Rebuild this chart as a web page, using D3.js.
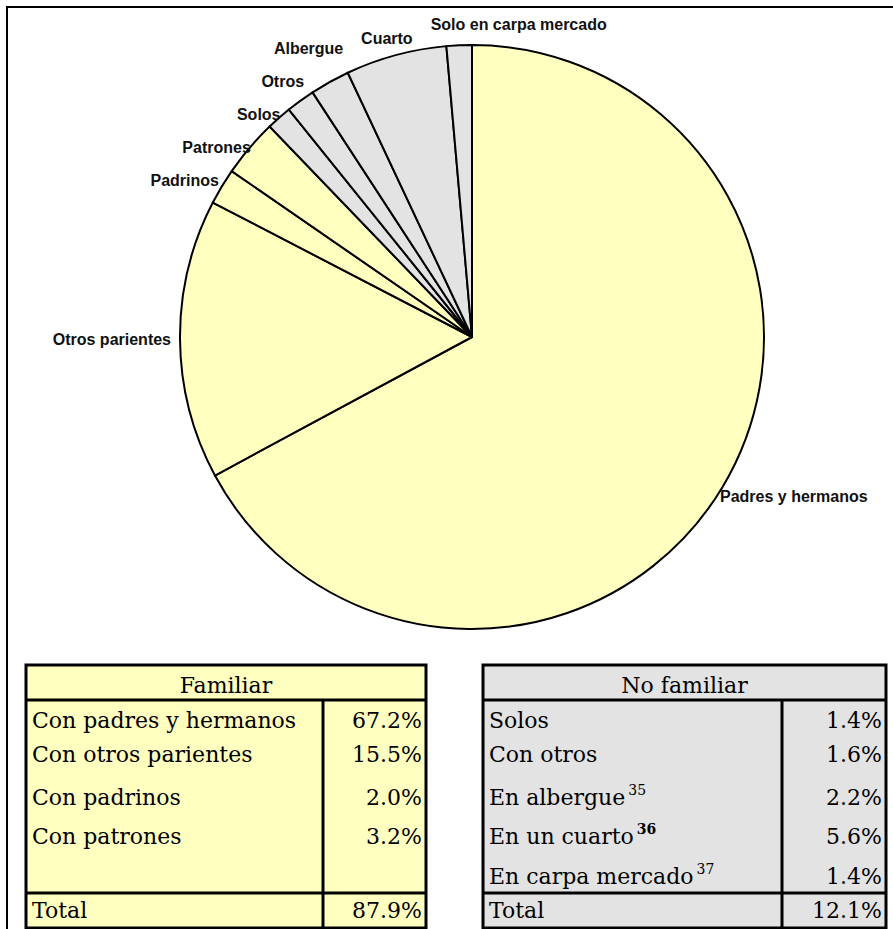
<!DOCTYPE html>
<html>
<head>
<meta charset="utf-8">
<script src="https://cdn.jsdelivr.net/npm/d3@7"></script>
<style>
  body { margin: 0; background: #fff; }
  svg { display: block; }
</style>
</head>
<body>
<div id="vis"></div>
<script>
// pie slices, clockwise from 12 o'clock
const SLICE_LABELS = ["Padres y hermanos", "Otros parientes", "Padrinos", "Patrones",
                      "Solos", "Otros", "Albergue", "Cuarto", "Solo en carpa mercado"];
const SLICE_VALUES = [67.2, 15.5, 2.0, 3.2, 1.4, 1.6, 2.2, 5.6, 1.4];
const SLICE_GROUP = ["fam", "fam", "fam", "fam", "nofam", "nofam", "nofam", "nofam", "nofam"];

// tables
const FAM_TITLE = "Familiar";
const FAM_ROWS = ["Con padres y hermanos", "Con otros parientes", "Con padrinos", "Con patrones", ""];
const FAM_VALUES = ["67.2%", "15.5%", "2.0%", "3.2%", ""];
const FAM_TOTAL = "87.9%";

const NOFAM_TITLE = "No familiar";
const NOFAM_ROWS = ["Solos", "Con otros", "En albergue", "En un cuarto", "En carpa mercado"];
const NOFAM_NOTES = ["", "", "35", "36", "37"];
const NOFAM_VALUES = ["1.4%", "1.6%", "2.2%", "5.6%", "1.4%"];
const NOFAM_TOTAL = "12.1%";

const FRAME_WIDTH = 893;
const FRAME_HEIGHT = 929;
const COLORS = {fam: "#FFFFC0", nofam: "#E3E3E3"};

const CX = 472, CY = 337, R = 292;

const svg = d3.select("#vis")
  .append("svg")
    .attr("width", FRAME_WIDTH)
    .attr("height", FRAME_HEIGHT);

// outer frame (only top and left edge visible)
svg.append("path")
  .attr("d", "M7," + (FRAME_HEIGHT + 5) + " L7,7 L" + (FRAME_WIDTH + 5) + ",7")
  .attr("fill", "none")
  .attr("stroke", "#000")
  .attr("stroke-width", 2);

// ---- pie ----
const pie = d3.pie().sort(null).value((d) => d);
const arcs = pie(SLICE_VALUES);
const arc = d3.arc().innerRadius(0).outerRadius(R);

const g = svg.append("g").attr("transform", "translate(" + CX + "," + CY + ")");

g.selectAll("path.slice")
  .data(arcs)
  .enter()
  .append("path")
    .attr("class", "slice")
    .attr("d", arc)
    .attr("fill", (d, i) => COLORS[SLICE_GROUP[i]])
    .attr("stroke", "#000")
    .attr("stroke-width", 2)
    .attr("stroke-linejoin", "round");

// labels: box pushed outward from a point just outside the rim
const labels = g.selectAll("text.lab")
  .data(arcs)
  .enter()
  .append("text")
    .attr("class", "lab")
    .attr("font-family", "Liberation Sans, Arial, sans-serif")
    .attr("font-weight", "bold")
    .attr("font-size", "16px")
    .attr("fill", "#111")
    .attr("text-anchor", "middle")
    .text((d, i) => SLICE_LABELS[i]);

const GAP = 9, LH = 18, MIN_DY = 33;
let boxes = [];
labels.each(function(d, i) {
  const w = this.getComputedTextLength();
  const a = (d.startAngle + d.endAngle) / 2;
  const s = Math.sin(a), c = Math.cos(a);
  boxes.push({
    x: s * (R + GAP) + s * w / 2,
    y: -c * (R + GAP) - c * LH / 2,
    w: w,
    top: Math.abs(s) < 0.3 && c > 0   // labels near 12 o'clock dodge sideways
  });
});

// spread crowded labels apart vertically (those not near the top)
for (let it = 0; it < 60; it++) {
  for (let i = 1; i < boxes.length; i++) {
    const a = boxes[i - 1], b = boxes[i];
    if (a.top || b.top) continue;
    const xOver = Math.abs(a.x - b.x) < (a.w + b.w) / 2;
    const dy = a.y - b.y;
    if (xOver && Math.abs(dy) < MIN_DY) {
      const push = (MIN_DY - Math.abs(dy)) / 2 * (dy >= 0 ? 1 : -1);
      a.y += push * 0.5;
      b.y -= push * 0.5;
    }
  }
}
// near the top, shift sideways past the previous label
for (let i = 1; i < boxes.length; i++) {
  const a = boxes[i - 1], b = boxes[i];
  if (!b.top) continue;
  const xOver = (b.x - b.w / 2) < (a.x + a.w / 2) && (b.x + b.w / 2) > (a.x - a.w / 2);
  if (xOver && Math.abs(a.y - b.y) < LH) {
    b.x += (a.x + a.w / 2 + 18) - (b.x - b.w / 2);
    b.y -= 3;
  }
}

labels.attr("x", (d, i) => boxes[i].x)
      .attr("y", (d, i) => boxes[i].y + 6);

// ---- tables ----
const TABLE_TOP = 665, HEAD_H = 35, TOTAL_H = 35;
const ROW_H = [34, 34, 43, 39, 43];
const SERIF = "DejaVu Serif, Liberation Serif, serif";
const FS = "22px";

function buildTable(x0, x1, xDiv, fill, title, rows, notes, values, total) {
  const t = svg.append("g");
  const bodyTop = TABLE_TOP + HEAD_H;
  const bodyH = d3.sum(ROW_H);
  const totalTop = bodyTop + bodyH;
  const bottom = totalTop + TOTAL_H;

  t.append("rect")
    .attr("x", x0).attr("y", TABLE_TOP)
    .attr("width", x1 - x0).attr("height", bottom - TABLE_TOP)
    .attr("fill", fill);

  // header
  t.append("text")
    .attr("x", (x0 + x1) / 2).attr("y", bodyTop - 7)
    .attr("text-anchor", "middle")
    .attr("font-family", SERIF).attr("font-size", FS)
    .text(title);

  // rows
  let yy = bodyTop;
  rows.forEach((r, i) => {
    yy += ROW_H[i];
    const base = i === rows.length - 1 ? yy - 9 : yy - 6;
    const lab = t.append("text")
      .attr("x", x0 + 6).attr("y", base)
      .attr("font-family", SERIF).attr("font-size", FS)
      .text(r);
    if (notes && notes[i]) {
      lab.append("tspan")
        .attr("dx", 3).attr("dy", -10)
        .attr("font-size", "14px")
        .attr("font-weight", notes[i] === "36" ? "bold" : "normal")
        .text(notes[i]);
    }
    t.append("text")
      .attr("x", x1 - 4).attr("y", base)
      .attr("text-anchor", "end")
      .attr("font-family", SERIF).attr("font-size", FS)
      .text(values[i]);
  });

  // total row
  t.append("text")
    .attr("x", x0 + 6).attr("y", bottom - 10)
    .attr("font-family", SERIF).attr("font-size", FS)
    .text("Total");
  t.append("text")
    .attr("x", x1 - 4).attr("y", bottom - 10)
    .attr("text-anchor", "end")
    .attr("font-family", SERIF).attr("font-size", FS)
    .text(total);

  // rules
  const lines = [
    [x0, bodyTop, x1, bodyTop],
    [x0, totalTop, x1, totalTop],
    [xDiv, bodyTop, xDiv, bottom]
  ];
  t.selectAll("line")
    .data(lines)
    .enter()
    .append("line")
      .attr("x1", (d) => d[0]).attr("y1", (d) => d[1])
      .attr("x2", (d) => d[2]).attr("y2", (d) => d[3])
      .attr("stroke", "#000").attr("stroke-width", 3);

  t.append("rect")
    .attr("x", x0).attr("y", TABLE_TOP)
    .attr("width", x1 - x0).attr("height", bottom - TABLE_TOP)
    .attr("fill", "none")
    .attr("stroke", "#000").attr("stroke-width", 3);
}

buildTable(26, 426, 323, COLORS.fam, FAM_TITLE, FAM_ROWS, null, FAM_VALUES, FAM_TOTAL);
buildTable(483, 886, 782, COLORS.nofam, NOFAM_TITLE, NOFAM_ROWS, NOFAM_NOTES, NOFAM_VALUES, NOFAM_TOTAL);
</script>
</body>
</html>
